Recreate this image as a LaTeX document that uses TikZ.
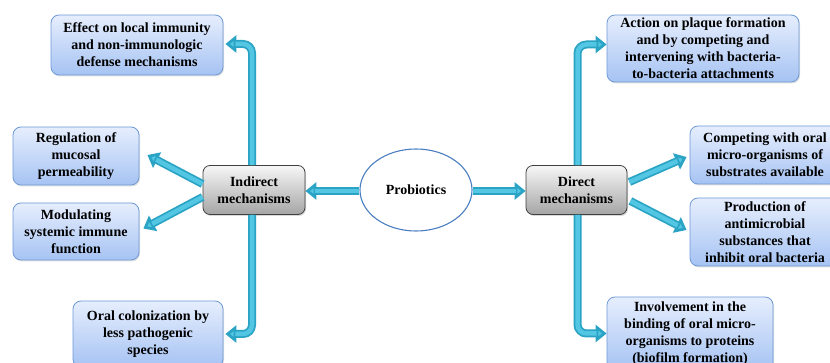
\documentclass[tikz,border=0pt]{standalone}
\usepackage{fontspec}
\setmainfont{Liberation Serif}
\usetikzlibrary{arrows.meta,shadows,shapes.geometric}
\definecolor{boxtop}{HTML}{E6EEFD}
\definecolor{boxbot}{HTML}{A6C3F3}
\definecolor{boxline}{HTML}{6E9AD6}
\definecolor{graytop}{HTML}{F7F7F7}
\definecolor{graybot}{HTML}{A5A5A5}
\definecolor{tubedark}{HTML}{2BA3C4}
\definecolor{tubelight}{HTML}{52C6E2}
\definecolor{ellline}{HTML}{4A7EC0}
\begin{document}
\begin{tikzpicture}[x=1pt,y=-1pt,
  txt/.style={font=\fontsize{14}{17}\selectfont\bfseries, align=center, text=black},
  bluebox/.style={txt, rectangle, rounded corners=8pt, draw=boxline, line width=0.8pt,
    top color=boxtop, bottom color=boxbot, inner sep=2pt,
    drop shadow={shadow xshift=1pt, shadow yshift=-1.5pt, opacity=0.25}},
  graybox/.style={txt, rectangle, rounded corners=7pt, draw=black!75, line width=0.8pt,
    top color=graytop, bottom color=graybot, inner sep=2pt,
    drop shadow={shadow xshift=1pt, shadow yshift=-1.5pt, opacity=0.3}},
  tube/.style={draw=tubedark, line width=8pt, rounded corners=9pt,
    -{Triangle[width=17pt,length=11pt,fill=tubelight]}},
  tubehi/.style={draw=tubelight, line width=4.5pt, rounded corners=9pt, shorten >=10pt},
]
\useasboundingbox (0,0) rectangle (830,363);

% nodes
\node[bluebox, minimum width=172pt, minimum height=60pt] (eff) at (137,45)
  {Effect on local immunity\\and non-immunologic\\defense mechanisms};
\node[bluebox, minimum width=126pt, minimum height=58pt] (reg) at (76,156)
  {Regulation of\\mucosal\\permeability};
\node[bluebox, minimum width=126pt, minimum height=57pt] (mod) at (76,231.5)
  {Modulating\\systemic immune\\function};
\node[bluebox, minimum width=150pt, minimum height=66pt] (oral) at (148,334)
  {Oral colonization by\\less pathogenic\\species};
\node[graybox, minimum width=102pt, minimum height=49pt] (ind) at (254,190)
  {Indirect\\mechanisms};
\node[ellipse, draw=ellline, line width=1.1pt, fill=white, minimum width=112pt,
  minimum height=82pt, txt] (prob) at (416,190) {Probiotics};
\node[graybox, minimum width=101pt, minimum height=49pt] (dir) at (576.5,190)
  {Direct\\mechanisms};
\node[bluebox, minimum width=192pt, minimum height=67pt] (act) at (703,48.5)
  {Action on plaque formation\\and by competing and\\intervening with bacteria-\\to-bacteria attachments};
\node[bluebox, minimum width=150pt, minimum height=58pt] (comp) at (765,155)
  {Competing with oral\\micro-organisms of\\substrates available};
\node[bluebox, minimum width=150pt, minimum height=68pt] (prod) at (765,232)
  {Production of\\antimicrobial\\substances that\\inhibit oral bacteria};
\node[bluebox, minimum width=166pt, minimum height=73pt] (inv) at (690,333.5)
  {Involvement in the\\binding of oral micro-\\organisms to proteins\\(biofilm formation)};

% connectors
\foreach \s in {tube,tubehi}{
  \draw[\s] ([xshift=-2pt]ind.north) |- ([xshift=2pt,yshift=1pt]eff.east);
  \draw[\s] ([xshift=-2pt]ind.south) |- ([xshift=2pt]oral.east);
  \draw[\s] ([yshift=6pt]ind.west) -- ([xshift=8pt,yshift=1pt]reg.east);
  \draw[\s] ([yshift=-7pt]ind.west) -- ([xshift=4pt,yshift=3pt]mod.east);
  \draw[\s] ([yshift=-1pt]prob.west) -- ([yshift=-1pt]ind.east);
  \draw[\s] ([yshift=-1pt]prob.east) -- ([yshift=-1pt]dir.east -| dir.west);
  \draw[\s] ([xshift=1pt]dir.north) |- ([yshift=4pt]act.west);
  \draw[\s] ([xshift=1pt]dir.south) |- (inv.west);
  \draw[\s] ([xshift=2pt,yshift=8pt]dir.east) -- ([xshift=-3pt,yshift=-2pt]comp.west);
  \draw[\s] ([xshift=3pt,yshift=-11pt]dir.east) -- ([xshift=-3pt,yshift=2pt]prod.west);
}
\end{tikzpicture}
\end{document}
